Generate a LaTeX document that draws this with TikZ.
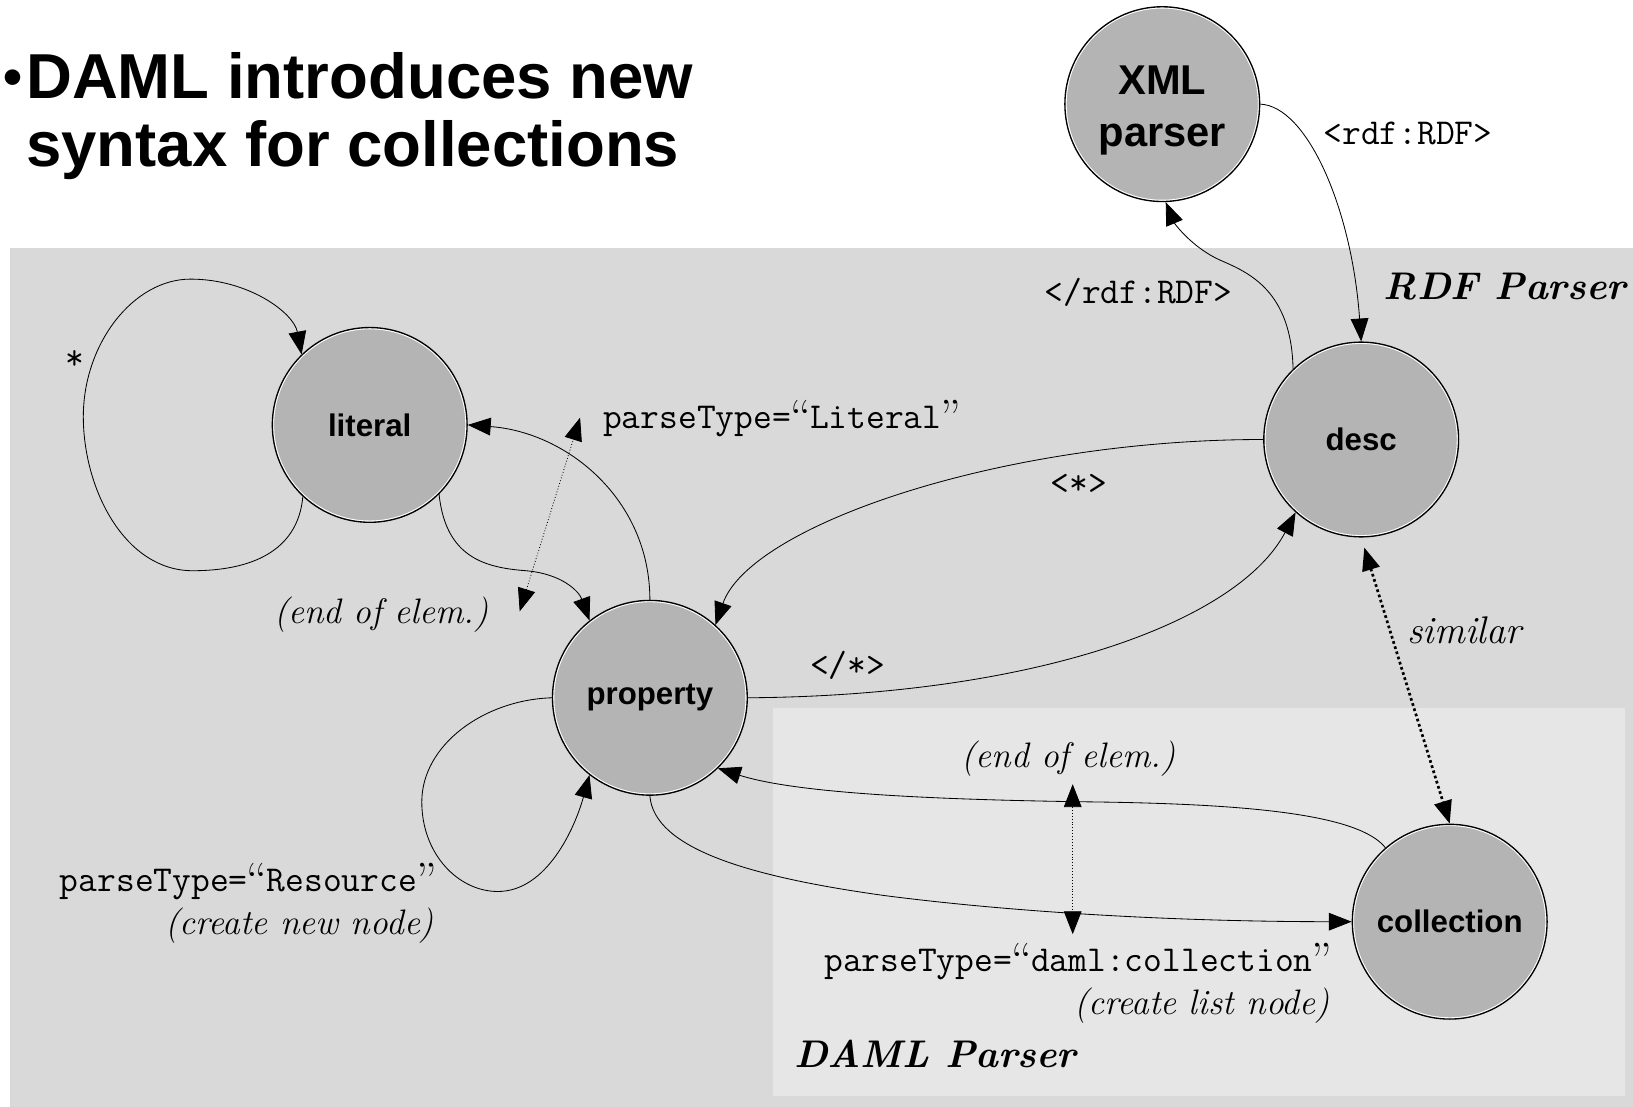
\documentclass[tikz,border=0pt]{standalone}
\usepackage{fontspec}
\newfontfamily\arialfont{Liberation Sans}
\usetikzlibrary{arrows.meta}
\definecolor{panelA}{HTML}{D9D9D9}
\definecolor{panelB}{HTML}{E6E6E6}
\definecolor{statefill}{HTML}{B4B4B4}
\newcommand\handfont{\rmfamily\itshape}
\newcommand\openq{\makebox[0.525em]{\rmfamily\upshape\fontsize{46}{48}\selectfont\smash{\raisebox{-5pt}{“}}}}
\newcommand\closeq{\makebox[0.525em]{\rmfamily\upshape\fontsize{46}{48}\selectfont\smash{\raisebox{-5pt}{”}}}}
\begin{document}
\begin{tikzpicture}[x=1pt,y=-1pt,
  >={Triangle[length=22pt,width=17pt]},
  state/.style={circle,minimum size=187pt,inner sep=0pt,fill=statefill,draw=black,line width=1.3pt,
     font=\arialfont\bfseries\fontsize{30}{34}\selectfont,
     path picture={\draw[white,line width=3.4pt] (path picture bounding box.center) circle (93.5pt);}},
  conn/.style={->,line width=0.8pt},
  dotconn/.style={<->,line width=0.8pt,dotted},
  simconn/.style={<->,line width=2.6pt,dash pattern=on 2.6pt off 2.6pt},
  code/.style={font=\ttfamily\fontsize{35}{38}\selectfont,inner sep=0pt},
  hand/.style={font=\handfont\fontsize{34}{40}\selectfont,inner sep=0pt},
  handbold/.style={font=\rmfamily\bfseries\itshape\fontsize{37}{42}\selectfont,inner sep=0pt},
  titletext/.style={font=\arialfont\bfseries\fontsize{61}{65}\selectfont,inner sep=0pt}
]
\useasboundingbox (0,0) rectangle (1568,1062);
\fill[white] (0,0) rectangle (1568,1062);
% panels
\fill[panelA] (10,238) rectangle (1570,1065);
\fill[panelB] (742,680) rectangle (1560,1052);

% title
\node[font=\arialfont\bfseries\fontsize{52}{56}\selectfont,inner sep=0pt,anchor=base] (bullet) at (12,92) {•};
\node[titletext,anchor=base west] (title1) at (25,95) {DAML introduces new};
\node[titletext,anchor=base west] (title2) at (25,160) {syntax for collections};

% states
\node[state,align=center,font=\arialfont\bfseries\fontsize{40}{50}\selectfont] (xml) at (1116,100) {\rule{0pt}{39pt}XML\\parser};
\node[state] (lit) at (355,408) {literal};
\node[state] (desc) at (1307,422) {desc};
\node[state] (prop) at (624,670) {property};
\node[state] (coll) at (1392,885) {collection};

% connectors
\draw[conn] (xml.0) .. controls (1255,102) and (1298,200) .. (desc.north);
\draw[conn] (desc.134) .. controls (1240,280) and (1200,262) .. (1172,250) .. controls (1145,238) and (1128,215) .. (xml.272);
\draw[conn] (desc.180) .. controls (960,422) and (720,505) .. (prop.48);
\draw[conn] (prop.0) .. controls (1000,668) and (1190,595) .. (desc.228);
\draw[conn] (lit.-45) .. controls (428,535) and (465,545) .. (505,548) .. controls (540,551) and (556,568) .. (prop.128);
\draw[conn] (prop.90) .. controls (624,480) and (545,415) .. (lit.0);
\draw[conn] (lit.227) .. controls (286,530) and (240,548) .. (185,548) .. controls (120,548) and (80,470) .. (80,400) .. controls (80,330) and (128,268) .. (183,268) .. controls (238,268) and (282,300) .. (lit.134);
\draw[conn] (prop.180) .. controls (465,672) and (405,715) .. (405,770) .. controls (405,820) and (440,856) .. (478,856) .. controls (525,856) and (552,795) .. (prop.232);
\draw[conn] (prop.270) .. controls (628,815) and (720,842) .. (850,860) .. controls (990,878) and (1150,885) .. (coll.180);
\draw[conn] (coll.131) .. controls (1305,782) and (1200,772) .. (1050,770) .. controls (900,768) and (765,762) .. (prop.-46);

% dotted relations
\coordinate (lt1) at (557,401);
\coordinate (lt2) at (499,587);
\draw[dotconn] (lt2) -- (lt1);
\coordinate (dm1) at (1030,753);
\coordinate (dm2) at (1030,897);
\draw[dotconn] (dm1) -- (dm2);
\draw[simconn,shorten <=10pt] (desc.south) -- (coll.north);

% labels
\node[code] (lrdf) at (1352,128) {<rdf:RDF>};
\node[code] (lerdf) at (1093,281) {</rdf:RDF>};
\node[code,anchor=west] (llit) at (579,405) {parseType=\openq Literal\closeq};
\node[code] (lstar) at (1036,465) {<*>};
\node[code] (lendstar) at (814,639) {</*>};
\node[code,anchor=base] (lany) at (72,355) {*};
\node[code,anchor=east] (lres) at (419,849) {parseType=\openq Resource\closeq};
\node[hand,anchor=east] (lnew) at (417,889) {(create new node)};
\node[code,anchor=east] (lcoll) at (1279,926) {parseType=\openq daml:collection\closeq};
\node[hand,anchor=east] (llist) at (1277,966) {(create list node)};
\node[hand] (lend1) at (366,590) {(end of elem.)};
\node[hand] (lend2) at (1026,728) {(end of elem.)};
\node[hand,font=\handfont\fontsize{37}{40}\selectfont] (lsim) at (1406,605) {similar};
\node[handbold] (lrdfp) at (1445,275) {RDF Parser};
\node[handbold,anchor=west] (ldamlp) at (763,1012) {DAML Parser};
\end{tikzpicture}
\end{document}
